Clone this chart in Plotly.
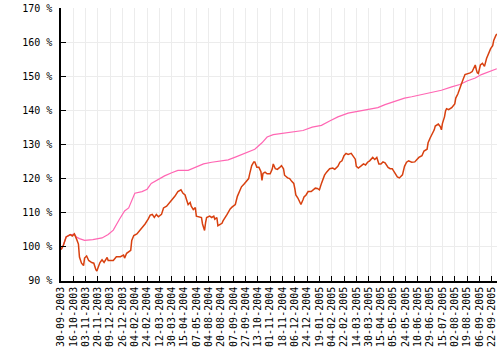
import plotly.graph_objects as go

tick_labels = ["30-09-2003", "16-10-2003", "03-11-2003", "20-11-2003", "09-12-2003", "26-12-2003",
               "04-02-2004", "24-02-2004", "12-03-2004", "30-03-2004", "15-04-2004", "07-05-2004",
               "04-08-2004", "20-08-2004", "07-09-2004", "27-09-2004", "13-10-2004", "01-11-2004",
               "18-11-2004", "06-12-2004", "24-12-2004", "19-01-2005", "04-02-2005", "22-02-2005",
               "14-03-2005", "30-03-2005", "15-04-2005", "05-05-2005", "24-05-2005", "10-06-2005",
               "29-06-2005", "15-07-2005", "02-08-2005", "19-08-2005", "06-09-2005", "22-09-2005"]
points_per_tick = 12

red_idx = [0, 2, 5, 7, 9, 11, 13, 15, 17, 18, 19, 20, 22, 23, 25, 27, 30, 32, 34, 35, 36, 38, 40, 42,
           45, 46, 49, 51, 54, 58, 61, 62, 64, 66, 68, 69, 71, 74, 77, 79, 82, 85, 87, 89, 91, 93, 95,
           98, 100, 103, 106, 108, 111, 114, 117, 119, 121, 123, 124, 126, 127, 129, 131, 132, 135,
           137, 138, 140, 141, 142, 145, 147, 149, 150, 152, 153, 157, 158, 162, 165, 167, 170, 172,
           174, 176, 179, 183, 184, 186, 188, 189, 191, 193, 195, 196, 197, 199, 201, 204, 206, 207,
           209, 211, 213, 215, 217, 218, 221, 223, 225, 227, 228, 229, 231, 234, 236, 237, 239, 241,
           244, 248, 250, 252, 254, 257, 259, 262, 265, 267, 270, 272, 274, 276, 278, 280, 283, 285,
           287, 288, 290, 293, 295, 297, 299, 301, 304, 306, 308, 310, 312, 314, 316, 319, 321, 323,
           325, 327, 328, 330, 332, 333, 335, 337, 339, 342, 345, 347, 349, 352, 354, 357, 358, 360,
           362, 364, 365, 368, 370, 371, 372, 374, 375, 376, 378, 381, 384, 385, 387, 389, 391, 392,
           394, 397, 399, 401, 403, 404, 405, 406, 407, 409, 411, 413, 415, 417, 419, 421, 422, 424, 425]
red_val = [99.2, 100.2, 102.9, 103.3, 103.6, 103.2, 103.8, 102.4, 100.8, 97.0, 95.7, 95.2, 94.5, 96.7,
           97.3, 96.0, 95.4, 95.2, 93.3, 92.9, 93.8, 95.4, 96.2, 95.4, 96.9, 96.0, 96.0, 96.0, 97.1,
           97.1, 97.6, 96.7, 98.1, 98.6, 99.0, 101.9, 103.3, 103.8, 104.8, 105.7, 106.7, 108.1, 109.3,
           109.5, 108.6, 109.5, 108.8, 109.5, 111.4, 111.9, 112.9, 113.8, 114.8, 116.2, 116.7, 115.7,
           115.2, 113.3, 112.4, 113.0, 111.9, 110.9, 111.5, 109.0, 108.8, 108.6, 106.7, 104.8, 107.1,
           108.6, 109.0, 108.6, 109.0, 108.1, 108.6, 106.2, 106.9, 107.6, 109.5, 111.1, 111.7, 112.4,
           114.8, 116.2, 117.6, 118.6, 120.0, 121.4, 123.8, 124.9, 124.9, 123.3, 123.3, 122.0, 119.5,
           121.5, 121.9, 121.4, 121.4, 122.8, 124.3, 122.9, 122.7, 123.2, 123.8, 122.9, 121.0, 120.2,
           120.0, 119.2, 118.6, 117.1, 115.2, 114.3, 112.4, 113.8, 114.6, 115.2, 116.2, 116.2, 117.2,
           117.1, 116.7, 118.6, 121.0, 121.9, 122.9, 123.1, 122.7, 123.6, 124.8, 125.2, 126.7, 127.4,
           127.1, 127.4, 126.7, 125.7, 123.6, 123.1, 123.8, 124.3, 124.0, 124.8, 125.2, 126.2, 125.6,
           126.2, 124.3, 124.3, 124.9, 124.6, 123.3, 122.9, 122.9, 121.9, 121.0, 120.5, 120.2, 121.0,
           121.1, 123.6, 124.8, 125.2, 124.8, 124.9, 125.7, 126.2, 126.7, 128.1, 128.6, 130.5, 131.9,
           132.9, 134.3, 135.4, 136.0, 135.2, 134.3, 136.2, 138.1, 139.8, 140.5, 140.2, 140.8, 141.9,
           143.6, 144.8, 146.7, 148.1, 149.0, 150.5, 150.7, 151.0, 151.4, 152.4, 153.3, 152.0, 151.0,
           150.8, 153.3, 153.8, 152.9, 155.2, 156.7, 158.1, 159.0, 160.5, 161.9, 162.4]

pink_idx = [0, 2, 5, 7, 9, 13, 15, 18, 23, 31, 40, 46, 51, 57, 62, 66, 72, 79, 84, 88, 95, 101, 108,
            114, 124, 131, 139, 147, 157, 163, 170, 173, 181, 189, 196, 201, 207, 217, 226, 236, 245,
            254, 262, 270, 280, 290, 300, 309, 316, 326, 335, 342, 352, 361, 371, 381, 389, 396, 404,
            410, 417, 423, 425]
pink_val = [99.2, 100.2, 102.9, 103.2, 103.5, 103.7, 102.9, 102.4, 101.9, 102.1, 102.6, 103.6, 104.9,
            108.1, 110.5, 111.4, 115.7, 116.2, 116.9, 118.6, 119.8, 120.8, 121.7, 122.4, 122.4, 123.3,
            124.3, 124.8, 125.1, 125.5, 126.3, 126.7, 127.6, 128.6, 130.5, 132.2, 132.9, 133.3, 133.5,
            134.1, 135.1, 135.6, 136.9, 138.1, 139.2, 139.8, 140.2, 140.8, 141.7, 142.8, 143.6, 144.0,
            144.6, 145.2, 145.9, 146.9, 147.6, 148.6, 149.5, 150.5, 151.4, 152.1, 152.2]

y_ticks = [90, 100, 110, 120, 130, 140, 150, 160, 170]
y_labels = ["90 %", "100 %", "110 %", "120 %", "130 %", "140 %", "150 %", "160 %", "170 %"]

fig = go.Figure()
fig.add_trace(go.Scatter(x=pink_idx, y=pink_val, mode="lines",
                         line=dict(color="#ff66b3", width=1.2), showlegend=False))
fig.add_trace(go.Scatter(x=red_idx, y=red_val, mode="lines",
                         line=dict(color="#d8400f", width=1.5), showlegend=False))

font = dict(family="DejaVu Sans Mono", size=10, color="black")
fig.update_layout(
    width=500, height=350,
    margin=dict(l=61, r=3, t=5, b=65),
    paper_bgcolor="white", plot_bgcolor="white",
    font=font,
    xaxis=dict(range=[0, 425.2], tickvals=[i * points_per_tick for i in range(len(tick_labels))],
               ticktext=tick_labels, tickangle=-90, showgrid=True, gridcolor="#ececec", gridwidth=1,
               showline=True, linecolor="black", linewidth=1.5, ticks="inside", ticklen=5,
               tickcolor="black", tickwidth=1, zeroline=False, tickfont=font,
               ticklabeloverflow="allow"),
    yaxis=dict(range=[89.98, 170.02], tickvals=y_ticks, ticktext=y_labels, showgrid=True,
               gridcolor="#ececec", gridwidth=1, showline=True, linecolor="black", linewidth=1.5,
               ticks="inside", ticklen=5, tickcolor="black", tickwidth=1, zeroline=False,
               tickfont=font, ticklabeloverflow="allow", ticklabelstandoff=5),
)
fig.write_html("out.html")
